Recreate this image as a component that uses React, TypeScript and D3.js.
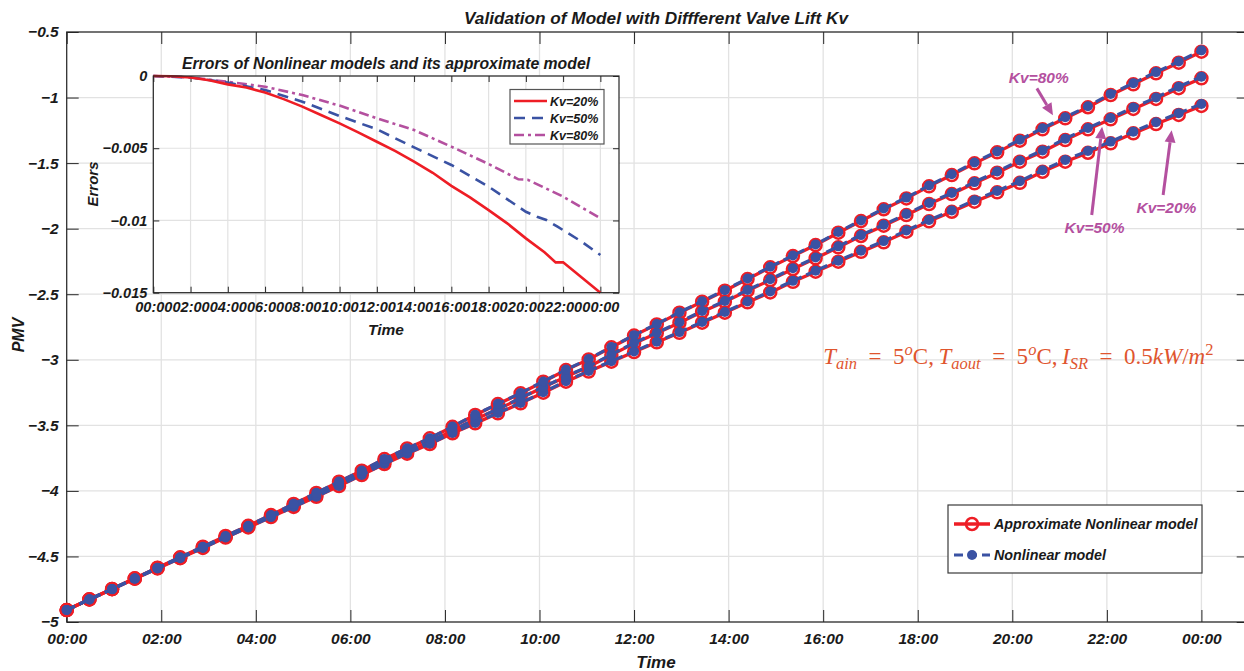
import React, { useRef, useEffect } from 'react';
import * as d3 from 'd3';

// sample times (hours since 00:00)
const hours = [0, 0.48, 0.96, 1.44, 1.92, 2.4, 2.88, 3.36, 3.84, 4.32, 4.8, 5.28, 5.76, 6.24, 6.72, 7.2, 7.68, 8.16, 8.64, 9.12,
  9.6, 10.08, 10.56, 11.04, 11.52, 12, 12.48, 12.96, 13.44, 13.92, 14.4, 14.88, 15.36, 15.84, 16.32, 16.8, 17.28, 17.76, 18.24, 18.72,
  19.2, 19.68, 20.16, 20.64, 21.12, 21.6, 22.08, 22.56, 23.04, 23.52, 24];

// approximate nonlinear model, PMV
const approx20 = [-4.909, -4.828, -4.750, -4.670, -4.591, -4.513, -4.435, -4.356, -4.279, -4.200,
  -4.122, -4.045, -3.963, -3.879, -3.795, -3.716, -3.643, -3.561, -3.485, -3.408,
  -3.332, -3.251, -3.167, -3.090, -3.015, -2.941, -2.867, -2.794, -2.717, -2.641,
  -2.562, -2.486, -2.405, -2.328, -2.252, -2.177, -2.104, -2.023, -1.944, -1.871,
  -1.794, -1.723, -1.650, -1.566, -1.489, -1.421, -1.349, -1.273, -1.202, -1.133, -1.064];
const approx50 = [-4.909, -4.828, -4.749, -4.669, -4.589, -4.510, -4.431, -4.351, -4.272, -4.193,
  -4.112, -4.032, -3.944, -3.864, -3.778, -3.701, -3.625, -3.541, -3.454, -3.378,
  -3.294, -3.210, -3.129, -3.053, -2.964, -2.875, -2.798, -2.717, -2.633, -2.557,
  -2.473, -2.392, -2.308, -2.226, -2.142, -2.056, -1.977, -1.896, -1.812, -1.736,
  -1.654, -1.573, -1.489, -1.413, -1.324, -1.242, -1.166, -1.087, -1.011, -0.929, -0.853];
const approx80 = [-4.909, -4.827, -4.749, -4.667, -4.586, -4.507, -4.426, -4.344, -4.266, -4.184,
  -4.100, -4.016, -3.930, -3.846, -3.757, -3.676, -3.599, -3.511, -3.421, -3.338,
  -3.256, -3.167, -3.078, -2.997, -2.905, -2.815, -2.730, -2.641, -2.557, -2.473,
  -2.384, -2.295, -2.209, -2.125, -2.031, -1.942, -1.852, -1.769, -1.677, -1.591,
  -1.502, -1.418, -1.329, -1.242, -1.158, -1.074, -0.981, -0.899, -0.815, -0.734, -0.650];

// nonlinear model, PMV
const nonlin20 = [-4.909, -4.828, -4.750, -4.670, -4.591, -4.513, -4.435, -4.356, -4.279, -4.200,
  -4.121, -4.044, -3.962, -3.878, -3.793, -3.714, -3.641, -3.559, -3.482, -3.405,
  -3.329, -3.248, -3.163, -3.086, -3.011, -2.936, -2.862, -2.789, -2.712, -2.635,
  -2.556, -2.479, -2.398, -2.321, -2.244, -2.169, -2.095, -2.014, -1.934, -1.861,
  -1.783, -1.712, -1.638, -1.554, -1.476, -1.408, -1.336, -1.260, -1.188, -1.119, -1.049];
const nonlin50 = [-4.909, -4.828, -4.749, -4.669, -4.589, -4.510, -4.431, -4.351, -4.272, -4.193,
  -4.111, -4.031, -3.943, -3.863, -3.777, -3.700, -3.623, -3.539, -3.452, -3.376,
  -3.291, -3.207, -3.126, -3.050, -2.960, -2.871, -2.794, -2.713, -2.628, -2.552,
  -2.468, -2.386, -2.302, -2.220, -2.135, -2.049, -1.970, -1.888, -1.804, -1.728,
  -1.645, -1.564, -1.480, -1.403, -1.314, -1.232, -1.155, -1.076, -1.000, -0.917, -0.841];
const nonlin80 = [-4.909, -4.827, -4.749, -4.667, -4.586, -4.507, -4.426, -4.344, -4.266, -4.184,
  -4.099, -4.015, -3.929, -3.845, -3.756, -3.675, -3.598, -3.509, -3.419, -3.336,
  -3.254, -3.165, -3.075, -2.994, -2.902, -2.812, -2.727, -2.638, -2.553, -2.469,
  -2.380, -2.291, -2.204, -2.120, -2.026, -1.937, -1.846, -1.763, -1.671, -1.585,
  -1.495, -1.411, -1.322, -1.234, -1.150, -1.066, -0.972, -0.890, -0.806, -0.725, -0.640];

// inset: errors between the models
const errHours20 = [0, 1, 2, 3, 4, 5, 6, 7, 8, 9, 10, 11, 12, 13, 14, 15, 16, 17, 18, 19, 20, 21, 21.6, 22, 23, 24];
const errKv20 = [0, -0.00002, -0.0001, -0.0003, -0.00058, -0.0008, -0.00115, -0.0016, -0.00212, -0.0027, -0.00328, -0.0039,
  -0.00455, -0.0052, -0.00593, -0.0067, -0.0076, -0.0084, -0.00928, -0.0102, -0.01124, -0.0122, -0.0129, -0.0129, -0.01395, -0.015];
const errHours50 = [0, 2, 4, 6, 8, 10, 12, 14, 16, 18, 20, 20.6, 21.1, 21.7, 23, 24];
const errKv50 = [0, -0.0001, -0.00046, -0.00097, -0.00178, -0.00277, -0.00369, -0.00494, -0.00616, -0.00766, -0.0094,
  -0.00974, -0.00997, -0.01043, -0.01147, -0.01239];
const errHours80 = [0, 2, 4, 6, 8, 10, 12, 14, 16, 18, 19.6, 20.1, 22, 24];
const errKv80 = [0, -0.0001, -0.0004, -0.00074, -0.00132, -0.00205, -0.00293, -0.00374, -0.00489, -0.00609, -0.00715,
  -0.00718, -0.00835, -0.00985];

const tickHours = [0, 2, 4, 6, 8, 10, 12, 14, 16, 18, 20, 22, 24];
const tickLabels = ['00:00', '02:00', '04:00', '06:00', '08:00', '10:00', '12:00', '14:00', '16:00', '18:00', '20:00', '22:00', '00:00'];
const pmvTicks = [-5, -4.5, -4, -3.5, -3, -2.5, -2, -1.5, -1, -0.5];
const errTicks = [-0.015, -0.01, -0.005, 0];

const kvNames = ['Kv=20%', 'Kv=50%', 'Kv=80%'];
// annotation: label position and arrow tail/head, in (hour, PMV)
const notes = [
  { label: 'Kv=80%', text: [20.56, -0.889], tail: [20.52, -0.93], head: [20.86, -1.135] },
  { label: 'Kv=50%', text: [21.74, -2.033], tail: [21.68, -1.896], head: [21.9, -1.222] },
  { label: 'Kv=20%', text: [23.26, -1.878], tail: [23.19, -1.743], head: [23.37, -1.25] },
];

const FONT = '"Liberation Sans", Arial, Helvetica, sans-serif';
const RED = '#ee1d25';
const BLUE = '#3a52a3';
const MAGENTA = '#b4509f';
const GRID = '#e2e2e2';
const AXIS = '#262626';

const fmtMinus = (d: any) => String(d).replace('-', '\u2212');

const App = () => {
  const ref = useRef<SVGSVGElement>(null);

  useEffect(() => {
    if (!ref.current) return;
    const svg = d3.select(ref.current);
    svg.selectAll('*').remove();

    const m = { left: 66.7, top: 32, right: 1248.7, bottom: 622 };
    const x = d3.scaleLinear().domain([0, 25]).range([m.left, m.right]);
    const y = d3.scaleLinear().domain([-5, -0.5]).range([m.bottom, m.top]);

    const styleText = (sel: any, size: number) =>
      sel.attr('font-family', FONT).attr('font-weight', 'bold').attr('font-style', 'italic')
        .attr('font-size', size).attr('fill', '#1a1a1a');

    svg.append('rect').attr('width', 1244).attr('height', 671).attr('fill', '#fff');

    // grid
    const grid = svg.append('g');
    grid.selectAll('.gx').data(tickHours).join('line')
      .attr('x1', d => x(d)).attr('x2', d => x(d)).attr('y1', m.top).attr('y2', m.bottom)
      .attr('stroke', GRID).attr('stroke-width', 1.3);
    grid.selectAll('.gy').data(pmvTicks).join('line')
      .attr('x1', m.left).attr('x2', m.right).attr('y1', d => y(d)).attr('y2', d => y(d))
      .attr('stroke', GRID).attr('stroke-width', 1.3);

    // axes
    const axB = svg.append('g').attr('transform', `translate(0,${m.bottom})`)
      .call(d3.axisBottom(x).tickValues(tickHours).tickFormat((d, i) => tickLabels[i])
        .tickSizeInner(-12).tickSizeOuter(0).tickPadding(11));
    const axT = svg.append('g').attr('transform', `translate(0,${m.top})`)
      .call(d3.axisTop(x).tickValues(tickHours).tickFormat(() => '').tickSizeInner(-12).tickSizeOuter(0));
    const axL = svg.append('g').attr('transform', `translate(${m.left},0)`)
      .call(d3.axisLeft(y).tickValues(pmvTicks).tickFormat(fmtMinus)
        .tickSizeInner(-12).tickSizeOuter(0).tickPadding(8));
    const axR = svg.append('g').attr('transform', `translate(${m.right},0)`)
      .call(d3.axisRight(y).tickValues(pmvTicks).tickFormat(() => '').tickSizeInner(-12).tickSizeOuter(0));
    [axB, axT, axL, axR].forEach(a => {
      a.select('.domain').remove();
      a.selectAll('line').attr('stroke', AXIS);
      styleText(a.selectAll('text'), 15.5);
    });
    svg.append('rect').attr('x', m.left).attr('y', m.top)
      .attr('width', m.right - m.left).attr('height', m.bottom - m.top)
      .attr('fill', 'none').attr('stroke', AXIS).attr('stroke-width', 1.2);

    // title and labels
    styleText(svg.append('text'), 17.2).attr('x', 656).attr('y', 24).attr('text-anchor', 'middle')
      .text('Validation of Model with Diffferent Valve Lift Kv');
    styleText(svg.append('text'), 17).attr('x', 656).attr('y', 668).attr('text-anchor', 'middle').text('Time');
    styleText(svg.append('text'), 16).attr('transform', 'translate(24,335) rotate(-90)')
      .attr('text-anchor', 'middle').text('PMV');

    // main series
    const line = d3.line<number>().x((d, i) => x(hours[i])).y(d => y(d));
    const approx = [approx20, approx50, approx80];
    const nonlin = [nonlin20, nonlin50, nonlin80];
    const series = svg.append('g');
    approx.forEach(s => {
      series.append('path').datum(s).attr('d', line).attr('fill', 'none')
        .attr('stroke', RED).attr('stroke-width', 3.3);
    });
    approx.forEach(s => {
      series.append('g').selectAll('circle').data(s).join('circle')
        .attr('cx', (d, i) => x(hours[i])).attr('cy', d => y(d)).attr('r', 6)
        .attr('fill', 'none').attr('stroke', RED).attr('stroke-width', 2.5);
    });
    nonlin.forEach(s => {
      series.append('path').datum(s).attr('d', line).attr('fill', 'none')
        .attr('stroke', BLUE).attr('stroke-width', 3.2).attr('stroke-dasharray', '9,5');
    });
    nonlin.forEach(s => {
      series.append('g').selectAll('circle').data(s).join('circle')
        .attr('cx', (d, i) => x(hours[i])).attr('cy', d => y(d)).attr('r', 5).attr('fill', BLUE);
    });

    // annotations
    const ann = svg.append('g');
    notes.forEach(n => {
      const x1 = x(n.tail[0]), y1 = y(n.tail[1]), x2 = x(n.head[0]), y2 = y(n.head[1]);
      const ang = Math.atan2(y2 - y1, x2 - x1);
      const hl = 12, hw = 5.5;
      const bx = x2 - hl * Math.cos(ang), by = y2 - hl * Math.sin(ang);
      ann.append('line').attr('x1', x1).attr('y1', y1).attr('x2', bx).attr('y2', by)
        .attr('stroke', MAGENTA).attr('stroke-width', 3);
      const px = -Math.sin(ang) * hw, py = Math.cos(ang) * hw;
      ann.append('path')
        .attr('d', `M${x2},${y2}L${bx + px},${by + py}L${bx - px},${by - py}Z`).attr('fill', MAGENTA);
      styleText(ann.append('text'), 15.5).attr('fill', MAGENTA)
        .attr('x', x(n.text[0])).attr('y', y(n.text[1])).attr('text-anchor', 'middle').text(n.label);
    });

    // formula
    const formula = svg.append('text').attr('x', x(16.0)).attr('y', y(-3.03))
      .attr('font-family', '"Liberation Serif", "DejaVu Serif", serif').attr('font-size', 23).attr('fill', '#e0552e');
    const EQ = '\u2002=\u2002';
    const parts = [
      { t: 'T', it: 1 }, { t: 'ain', it: 1, s: 1 }, { t: EQ + '5' }, { t: 'o', it: 1, s: -1 }, { t: 'C,\u2009' },
      { t: 'T', it: 1 }, { t: 'aout', it: 1, s: 1 }, { t: EQ + '5' }, { t: 'o', it: 1, s: -1 }, { t: 'C,\u2009' },
      { t: 'I', it: 1 }, { t: 'SR', it: 1, s: 1 }, { t: EQ + '0.5' }, { t: 'kW', it: 1 }, { t: '/' }, { t: 'm', it: 1 },
      { t: '2', s: -1 },
    ];
    let shift = 0;
    parts.forEach((p: any) => {
      const target = p.s === 1 ? 5 : p.s === -1 ? -9 : 0;
      formula.append('tspan').attr('dy', target - shift)
        .attr('font-style', p.it ? 'italic' : 'normal').attr('font-size', p.s ? 16.5 : 23)
        .attr('xml:space', 'preserve').text(p.t);
      shift = target;
    });

    // main legend
    const lg = svg.append('g');
    lg.append('rect').attr('x', 948).attr('y', 505).attr('width', 254).attr('height', 68)
      .attr('fill', '#fff').attr('stroke', '#3a3a3a').attr('stroke-width', 1.2);
    lg.append('line').attr('x1', 954).attr('x2', 990).attr('y1', 524).attr('y2', 524)
      .attr('stroke', RED).attr('stroke-width', 3.3);
    lg.append('circle').attr('cx', 972).attr('cy', 524).attr('r', 6).attr('fill', 'none')
      .attr('stroke', RED).attr('stroke-width', 2.5);
    styleText(lg.append('text'), 14.3).attr('x', 994).attr('y', 529).text('Approximate Nonlinear model');
    lg.append('line').attr('x1', 954).attr('x2', 990).attr('y1', 555).attr('y2', 555)
      .attr('stroke', BLUE).attr('stroke-width', 3.2).attr('stroke-dasharray', '9,5');
    lg.append('circle').attr('cx', 972).attr('cy', 555).attr('r', 5).attr('fill', BLUE);
    styleText(lg.append('text'), 14.3).attr('x', 994).attr('y', 560).text('Nonlinear model');

    // inset
    const ix = d3.scaleLinear().domain([0, 25]).range([153.3, 619]);
    const iy = d3.scaleLinear().domain([-0.015, 0]).range([292.7, 76]);
    const ins = svg.append('g');
    ins.append('rect').attr('x', 153.3).attr('y', 76).attr('width', 619 - 153.3).attr('height', 292.7 - 76).attr('fill', '#fff');
    ins.selectAll('.igx').data(tickHours).join('line')
      .attr('x1', d => ix(d)).attr('x2', d => ix(d)).attr('y1', 76).attr('y2', 292.7)
      .attr('stroke', GRID).attr('stroke-width', 1.2);
    ins.selectAll('.igy').data(errTicks).join('line')
      .attr('x1', 153.3).attr('x2', 619).attr('y1', d => iy(d)).attr('y2', d => iy(d))
      .attr('stroke', GRID).attr('stroke-width', 1.2);

    const iB = ins.append('g').attr('transform', 'translate(0,292.7)')
      .call(d3.axisBottom(ix).tickValues(tickHours).tickFormat((d, i) => tickLabels[i])
        .tickSizeInner(-6).tickSizeOuter(0).tickPadding(9));
    const iT = ins.append('g').attr('transform', 'translate(0,76)')
      .call(d3.axisTop(ix).tickValues(tickHours).tickFormat(() => '').tickSizeInner(-6).tickSizeOuter(0));
    const iL = ins.append('g').attr('transform', 'translate(153.3,0)')
      .call(d3.axisLeft(iy).tickValues(errTicks).tickFormat(fmtMinus)
        .tickSizeInner(-6).tickSizeOuter(0).tickPadding(6));
    const iR = ins.append('g').attr('transform', 'translate(619,0)')
      .call(d3.axisRight(iy).tickValues(errTicks).tickFormat(() => '').tickSizeInner(-6).tickSizeOuter(0));
    [iB, iT, iL, iR].forEach(a => {
      a.select('.domain').remove();
      a.selectAll('line').attr('stroke', AXIS);
      styleText(a.selectAll('text'), 14.5);
    });

    const errSets = [
      { h: errHours20, v: errKv20, color: RED, dash: null },
      { h: errHours50, v: errKv50, color: BLUE, dash: '11,7' },
      { h: errHours80, v: errKv80, color: MAGENTA, dash: '10,4,3,4' },
    ];
    errSets.slice().reverse().forEach(s => {
      const eline = d3.line<number>().x((d, i) => ix(s.h[i])).y(d => iy(d));
      ins.append('path').datum(s.v).attr('d', eline).attr('fill', 'none')
        .attr('stroke', s.color).attr('stroke-width', 2.6).attr('stroke-dasharray', s.dash);
    });
    ins.append('rect').attr('x', 153.3).attr('y', 76).attr('width', 619 - 153.3).attr('height', 292.7 - 76)
      .attr('fill', 'none').attr('stroke', AXIS).attr('stroke-width', 1.2);

    styleText(ins.append('text'), 15.8).attr('x', 386).attr('y', 69).attr('text-anchor', 'middle')
      .text('Errors of Nonlinear models and its approximate model');
    styleText(ins.append('text'), 15.5).attr('x', 386).attr('y', 335).attr('text-anchor', 'middle').text('Time');
    styleText(ins.append('text'), 15).attr('transform', 'translate(98,184) rotate(-90)')
      .attr('text-anchor', 'middle').text('Errors');

    // inset legend
    const il = ins.append('g');
    il.append('rect').attr('x', 510).attr('y', 89.5).attr('width', 94).attr('height', 54.5)
      .attr('fill', '#fff').attr('stroke', '#555').attr('stroke-width', 1.2);
    errSets.forEach((s, i) => {
      const ly = 101 + i * 17;
      il.append('line').attr('x1', 514).attr('x2', 547).attr('y1', ly).attr('y2', ly)
        .attr('stroke', s.color).attr('stroke-width', 2.6).attr('stroke-dasharray', s.dash);
      styleText(il.append('text'), 12.5).attr('x', 550).attr('y', ly + 4.5).text(kvNames[i]);
    });
  }, []);

  return (
    <svg ref={ref} width={1244} height={671}
      style={{ display: 'block', position: 'absolute', left: 0, top: 0 }} />
  );
};

export default App;
